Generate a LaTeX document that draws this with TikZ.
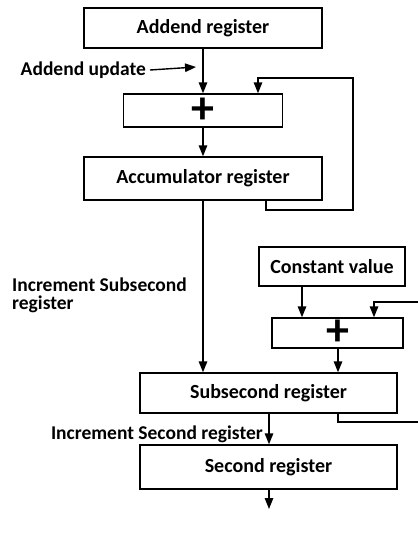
\documentclass[tikz,border=0pt]{standalone}
\usepackage{fontspec}
\setmainfont{Carlito}
\usetikzlibrary{arrows.meta}
\tikzstyle{register} = [rectangle, draw=black, line width=1.4pt, inner sep=0pt, text centered, font=\fontsize{20}{22}\selectfont\bfseries]
\tikzstyle{adder} = [rectangle, draw=black, line width=1.4pt, inner sep=0pt, font=\fontsize{46}{46}\selectfont\bfseries]
\tikzstyle{label} = [inner sep=0pt, font=\fontsize{19.5}{17.5}\selectfont\bfseries]
\tikzstyle{arrow} = [line width=1.4pt, -{Triangle[width=8.5pt,length=11pt]}]
\tikzstyle{line} = [line width=1.4pt]

\begin{document}
\begin{tikzpicture}[x=1pt, y=-1pt]
\useasboundingbox (0,0) rectangle (418,536);

\node (addend) [register, minimum width=238pt, minimum height=40pt] at (203,28) {Addend register};
\node (plus1) [adder, minimum width=159pt, minimum height=33pt] at (203,110.5) {+};
\node (accum) [register, minimum width=238pt, minimum height=43pt] at (203,178.5) {Accumulator register};

\node (const) [register, minimum width=146pt, minimum height=39pt] at (332,266.5) {Constant value};
\node (plus2) [adder, minimum width=131pt, minimum height=30pt] at (337.5,333) {+};
\node (subsec) [register, minimum width=257pt, minimum height=40pt] at (268.5,393) {Subsecond register};
\node (second) [register, minimum width=257pt, minimum height=44pt] at (268.5,467) {Second register};

% labels
\node (updlbl) [label, anchor=east] at (146,70) {Addend update};
\node (inclbl) [label, anchor=north west, align=left] at (12,278) {Increment Subsecond\\register};
\node (seclbl) [label, anchor=east] at (263,434) {Increment Second register};

\coordinate (upd) at (196,67);
\coordinate (out) at (269,509);

% main chain
\draw [arrow] (addend) -- (plus1);
\draw [arrow] (updlbl.east) ++(4,0) -- (upd);
\draw [arrow] (plus1) -- (accum);
\draw [arrow] (accum) -- (accum.south |- subsec.north);
\draw [arrow] (const.south -| 302,0) -- (302,0 |- plus2.north);
\draw [arrow] (plus2.south -| 338,0) -- (338,0 |- subsec.north);
\draw [arrow] (subsec.south -| 269,0) -- (269,0 |- second.north);
\draw [arrow] (second.south -| 269,0) -- (out);

% feedback loops
\draw [arrow] (accum.south -| 266,0) -- (266,210) -- (353,210) -- (353,78) -- (258,78) -- (258,0 |- plus1.north);
\draw [line] (subsec.south -| 338,0) -- (338,422) -- (418,422);
\draw [arrow] (418,302) -- (374,302) -- (374,0 |- plus2.north);
\end{tikzpicture}
\end{document}
